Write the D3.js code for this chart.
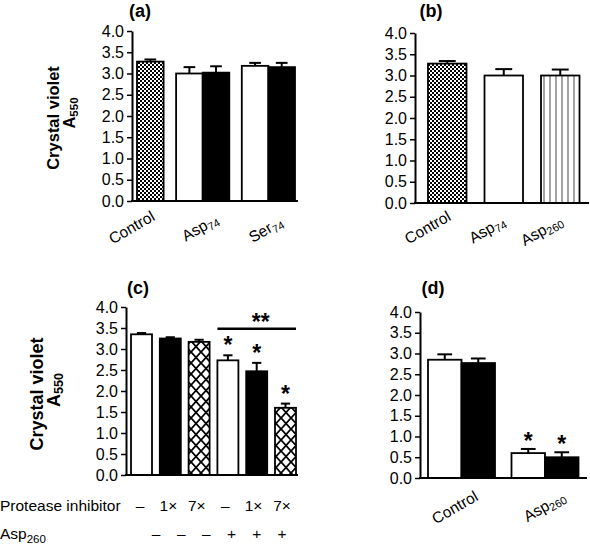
<!DOCTYPE html>
<html><head><meta charset="utf-8">
<script src="https://cdn.jsdelivr.net/npm/d3@7"></script>
<style>
body{margin:0;background:#fff}
svg{display:block}
text{font-family:"Liberation Sans",Arial,Helvetica,sans-serif;fill:#000}
</style>
</head><body>
<svg id="chart" width="590" height="553"></svg>
<script>
// ---------------- DATA ----------------
const yTickValues = [0, 0.5, 1, 1.5, 2, 2.5, 3, 3.5, 4];
const yTitle = "Crystal violet";
const yTitleSym = ["A", "550"];

// Panel (a)
const aCategories = ["Control", "Asp74", "Ser74"];
const aBarGroup  = [0, 1, 1, 2, 2];
const aBarSeries = ["checker", "white", "black", "white", "black"];
const aValues    = [3.28, 3.00, 3.02, 3.18, 3.15];
const aErrors    = [0.05, 0.15, 0.15, 0.07, 0.10];

// Panel (b)
const bCategories = ["Control", "Asp74", "Asp260"];
const bBarGroup  = [0, 1, 2];
const bBarSeries = ["checker", "white", "vlines"];
const bValues    = [3.28, 3.00, 3.00];
const bErrors    = [0.06, 0.15, 0.14];

// Panel (c)
const cBarGroup  = [0, 1, 2, 3, 4, 5];
const cBarSeries = ["white", "black", "cross", "white", "black", "cross"];
const cValues    = [3.35, 3.25, 3.17, 2.73, 2.47, 1.60];
const cErrors    = [0.03, 0.03, 0.05, 0.12, 0.20, 0.10];
const cSignificant = [3, 4, 5];
const cBracket = {from: 3, to: 5, level: 3.48, label: "**"};
const cRow1Label = "Protease inhibitor";
const cRow1 = ["–", "1×", "7×", "–", "1×", "7×"];
const cRow2Label = ["Asp", "260"];
const cRow2 = ["–", "–", "–", "+", "+", "+"];

// Panel (d)
const dCategories = ["Control", "Asp260"];
const dBarGroup  = [0, 0, 1, 1];
const dBarSeries = ["white", "black", "white", "black"];
const dValues    = [2.85, 2.77, 0.60, 0.50];
const dErrors    = [0.13, 0.11, 0.10, 0.12];
const dSignificant = [2, 3];

// ---------------- DRAWING ----------------
const svg = d3.select("#chart");
const defs = svg.append("defs");

const pc = defs.append("pattern").attr("id", "checker").attr("patternUnits", "userSpaceOnUse")
  .attr("width", 4).attr("height", 4);
pc.append("rect").attr("width", 4).attr("height", 4).attr("fill", "#fff");
pc.append("rect").attr("width", 2).attr("height", 2).attr("fill", "#000");
pc.append("rect").attr("x", 2).attr("y", 2).attr("width", 2).attr("height", 2).attr("fill", "#000");

const pv = defs.append("pattern").attr("id", "vlines").attr("patternUnits", "userSpaceOnUse")
  .attr("width", 6).attr("height", 10).attr("x", 1);
pv.append("rect").attr("width", 6).attr("height", 10).attr("fill", "#fff");
pv.append("line").attr("x1", 3).attr("x2", 3).attr("y1", 0).attr("y2", 10)
  .attr("stroke", "#666").attr("stroke-width", 1.2);

const px = defs.append("pattern").attr("id", "cross").attr("patternUnits", "userSpaceOnUse")
  .attr("width", 10).attr("height", 11).attr("x", 1);
px.append("rect").attr("width", 10).attr("height", 11).attr("fill", "#fff");
px.append("path").attr("d", "M0,0L10,11M10,0L0,11M-5,5.5L0,11M5,-5.5L15,5.5")
  .attr("stroke", "#000").attr("stroke-width", 1.8).attr("fill", "none");

const fills = {white: "#fff", black: "#000", checker: "url(#checker)", vlines: "url(#vlines)", cross: "url(#cross)"};

function subLabel(sel, str, mainSize, subSize, shift) {
  const m = str.match(/^([A-Za-z]+)(\d+)$/);
  if (!m) { sel.append("tspan").attr("font-size", mainSize).text(str); return; }
  sel.append("tspan").attr("font-size", mainSize).text(m[1]);
  sel.append("tspan").attr("font-size", subSize).attr("dy", shift).text(m[2]);
}

function panel(cfg) {
  const g = svg.append("g");
  const y = d3.scaleLinear().domain([0, 4]).range([cfg.yBottom, cfg.yTop]);
  const gapUnits = cfg.gap / cfg.bw;
  const x = d3.scaleLinear().domain([0, 1]).range([cfg.firstBar, cfg.firstBar + cfg.bw]);
  const bars = cfg.values.map((v, i) => ({
    v, e: cfg.errors[i], s: cfg.series[i], grp: cfg.groups[i],
    u: i + cfg.groups[i] * gapUnits, i
  }));

  g.selectAll("rect.bar").data(bars).join("rect").attr("class", "bar")
    .attr("x", d => x(d.u)).attr("width", d => x(d.u + 1) - x(d.u))
    .attr("y", d => y(d.v)).attr("height", d => y(0) - y(d.v))
    .attr("fill", d => fills[d.s]).attr("stroke", "#000").attr("stroke-width", 1.8);

  const cx = d => x(d.u + 0.5);
  const capHalf = cfg.bw * 0.22;
  g.selectAll("line.err").data(bars).join("line").attr("class", "err")
    .attr("x1", cx).attr("x2", cx).attr("y1", d => y(d.v)).attr("y2", d => y(d.v + d.e))
    .attr("stroke", "#000").attr("stroke-width", 2);
  g.selectAll("line.cap").data(bars).join("line").attr("class", "cap")
    .attr("x1", d => cx(d) - capHalf).attr("x2", d => cx(d) + capHalf)
    .attr("y1", d => y(d.v + d.e)).attr("y2", d => y(d.v + d.e))
    .attr("stroke", "#000").attr("stroke-width", 2);

  const ax = g.append("g").attr("transform", `translate(${cfg.x0},0)`)
    .call(d3.axisLeft(y).tickValues(yTickValues).tickFormat(d3.format(".1f")).tickSize(5).tickSizeOuter(0).tickPadding(3));
  ax.select(".domain").attr("stroke-width", 2);
  ax.selectAll(".tick line").attr("stroke-width", 1.5);
  ax.selectAll(".tick text").attr("font-size", 16).attr("font-family", '"Liberation Sans",Arial,sans-serif');

  g.append("line").attr("x1", cfg.x0 - 1).attr("x2", cfg.x1).attr("y1", y(0)).attr("y2", y(0))
    .attr("stroke", "#000").attr("stroke-width", 2);

  g.append("text").attr("x", cfg.titleX).attr("y", cfg.titleY).attr("text-anchor", "middle")
    .attr("font-size", 18).attr("font-weight", "bold").text(cfg.title);

  if (cfg.categories) {
    cfg.categories.forEach((c, gi) => {
      const members = bars.filter(b => b.grp === gi);
      const mid = (x(members[0].u) + x(members[members.length - 1].u + 1)) / 2;
      const off = cfg.labOff[gi];
      const t = g.append("text").attr("text-anchor", "middle")
        .attr("transform", `translate(${mid + off[0]},${y(0) + off[1]}) rotate(-30)`);
      subLabel(t, c, 15.5, 11, 3);
    });
  }

  (cfg.sig || []).forEach(i => {
    const d = bars[i];
    g.append("text").attr("x", cx(d)).attr("y", y(d.v + d.e) - cfg.starGap)
      .attr("text-anchor", "middle").attr("font-size", 23).attr("font-weight", "bold").text("*");
  });

  if (cfg.bracket) {
    const b = cfg.bracket;
    const xa = x(bars[b.from].u), xb = x(bars[b.to].u + 1);
    g.append("line").attr("x1", xa).attr("x2", xb).attr("y1", y(b.level)).attr("y2", y(b.level))
      .attr("stroke", "#000").attr("stroke-width", 2.5);
    g.append("text").attr("x", (xa + xb) / 2 + 4).attr("y", y(b.level) + 1)
      .attr("text-anchor", "middle").attr("font-size", 23).attr("font-weight", "bold").text(b.label);
  }
}

function yAxisTitle(xBase, yMid, size, subX, subMid) {
  svg.append("text").attr("transform", `translate(${xBase},${yMid}) rotate(-90)`)
    .attr("text-anchor", "middle").attr("font-size", size).attr("font-weight", "bold").text(yTitle);
  const t = svg.append("text").attr("transform", `translate(${subX},${subMid}) rotate(-90)`)
    .attr("text-anchor", "middle").attr("font-weight", "bold");
  t.append("tspan").attr("font-size", size).text(yTitleSym[0]);
  t.append("tspan").attr("font-size", size * 0.7).attr("dy", 3).text(yTitleSym[1]);
}

panel({title: "(a)", titleX: 140, titleY: 17, x0: 132, x1: 298, yTop: 31, yBottom: 201,
  firstBar: 137, bw: 26.6, gap: 12.5, values: aValues, errors: aErrors, series: aBarSeries,
  groups: aBarGroup, categories: aCategories, labOff: [[-16, 31], [0, 31], [0, 33]]});
panel({title: "(b)", titleX: 431, titleY: 17, x0: 415, x1: 589, yTop: 33, yBottom: 203,
  firstBar: 428, bw: 38.5, gap: 18, values: bValues, errors: bErrors, series: bBarSeries,
  groups: bBarGroup, categories: bCategories, labOff: [[-17, 29], [-14, 31], [-16, 32]]});
panel({title: "(c)", titleX: 138, titleY: 294, x0: 126, x1: 298, yTop: 307, yBottom: 475,
  firstBar: 131, bw: 21, gap: 7.8, values: cValues, errors: cErrors, series: cBarSeries,
  groups: cBarGroup, sig: cSignificant, starGap: 2, bracket: cBracket});
panel({title: "(d)", titleX: 433, titleY: 294, x0: 420, x1: 587, yTop: 312, yBottom: 478,
  firstBar: 428, bw: 33.5, gap: 16.5, values: dValues, errors: dErrors, series: dBarSeries,
  groups: dBarGroup, categories: dCategories, sig: dSignificant, starGap: 0, labOff: [[-4, 34], [2, 33]]});

yAxisTitle(58.5, 118, 16.5, 75, 113);
yAxisTitle(43, 394, 18, 60, 390);

const row1 = d3.scalePoint().domain(d3.range(cRow1.length)).range([140, 282]);
const row2 = d3.scalePoint().domain(d3.range(cRow2.length)).range([156, 282]);
svg.append("text").attr("x", 0).attr("y", 511).attr("font-size", 15.5).text(cRow1Label);
svg.selectAll("text.r1").data(cRow1).join("text").attr("class", "r1")
  .attr("x", (d, i) => row1(i)).attr("y", 511).attr("text-anchor", "middle").attr("font-size", 15.5).text(d => d);
const r2 = svg.append("text").attr("x", 0).attr("y", 538.5);
r2.append("tspan").attr("font-size", 15.5).text(cRow2Label[0]);
r2.append("tspan").attr("font-size", 11.5).attr("dy", 4).text(cRow2Label[1]);
svg.selectAll("text.r2").data(cRow2).join("text").attr("class", "r2")
  .attr("x", (d, i) => row2(i)).attr("y", 538.5).attr("text-anchor", "middle").attr("font-size", 15.5).text(d => d);
</script>
</body></html>
